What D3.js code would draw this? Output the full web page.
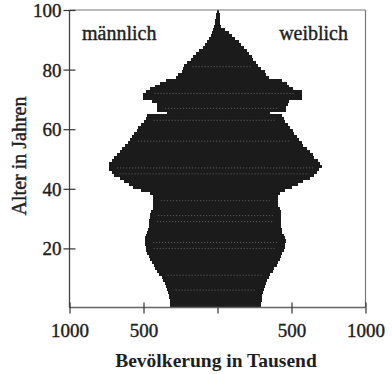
<!DOCTYPE html>
<html><head><meta charset="utf-8">
<script src="https://cdn.jsdelivr.net/npm/d3@7"></script>
<style>
html,body{margin:0;padding:0;background:#fff;}
svg{display:block;font-family:"Liberation Serif","Times New Roman",serif;}
</style></head>
<body>
<svg id="chart" width="392" height="374"></svg>
<script>
// Ages 0..99 (one bar per year), values in thousands
const ages = d3.range(0, 100);
const maleValues = [
 321,321,324,328,331,334,338,345,355,365,
 375,392,409,422,432,443,453,463,473,480,
 486,490,490,490,480,473,470,466,463,463,
 459,456,446,439,436,436,436,439,456,520,
 571,601,635,662,696,716,733,733,730,716,
 696,682,662,642,622,605,591,578,561,547,
 534,517,500,486,473,341,409,409,409,443,
 503,503,480,456,419,389,350,280,265,243,
 230,223,209,182,166,142,122,101,84,68,
 57,47,37,30,24,17,14,10,7,3
];
const femaleValues = [
 297,297,301,304,304,307,311,318,328,334,
 345,358,372,385,399,409,419,429,439,446,
 453,456,463,459,449,439,436,432,429,429,
 429,429,429,419,412,409,409,409,419,453,
 503,541,581,622,649,672,689,706,693,679,
 655,645,622,605,581,568,551,537,520,507,
 490,476,459,446,436,355,463,463,473,486,
 571,571,571,507,486,470,436,345,331,318,
 297,277,260,243,233,216,199,179,159,142,
 118,98,78,54,27,20,20,17,14,10
];
// ages where the printed bars show faint separator lines
const separatorAges = [6, 11, 20, 22, 29, 31, 36, 45, 47, 56, 63, 67, 72, 81];
const yTicks = [20, 40, 60, 80, 100];
const xTicks = [-1000, -500, 0, 500, 1000];
const xTickLabels = ["1000", "500", "", "500", "1000"];
const maleLabel = "männlich";
const femaleLabel = "weiblich";
const xTitle = "Bevölkerung in Tausend";
const yTitle = "Alter in Jahren";

const svg = d3.select("#chart");
const x = d3.scaleLinear().domain([-1000, 1000]).range([69.5, 365.5]);
const y = d3.scaleLinear().domain([0, 100]).range([308, 10]);
const fill = "#1b1b1b";
const ink = "#1e1e1e";

const data = ages.map((a, i) => ({age: a, m: maleValues[i], f: femaleValues[i]}));

const g = svg.append("g").attr("shape-rendering", "crispEdges");
g.selectAll("rect.m").data(data).join("rect").attr("class", "m")
  .attr("x", d => x(-d.m)).attr("width", d => x(0) - x(-d.m) + 0.5)
  .attr("y", d => y(d.age + 1)).attr("height", d => y(d.age) - y(d.age + 1) + 0.4)
  .attr("fill", fill);
g.selectAll("rect.f").data(data).join("rect").attr("class", "f")
  .attr("x", x(0)).attr("width", d => x(d.f) - x(0))
  .attr("y", d => y(d.age + 1)).attr("height", d => y(d.age) - y(d.age + 1) + 0.4)
  .attr("fill", fill);

// faint separator dots
svg.selectAll("line.sep").data(separatorAges).join("line").attr("class", "sep")
  .attr("x1", a => x(-maleValues[a]) + 8).attr("x2", a => x(femaleValues[a]) - 8)
  .attr("y1", a => y(a)).attr("y2", a => y(a))
  .attr("stroke", "#fff").attr("stroke-opacity", 0.35).attr("stroke-width", 0.8)
  .attr("stroke-dasharray", "1.2,1.8");

// frame
const x0 = x(-1000), x1 = x(1000), yTop = y(100), yBot = y(0) - 0.5;
svg.append("line").attr("x1", x0).attr("x2", x1).attr("y1", yTop).attr("y2", yTop).attr("stroke", "#777").attr("stroke-width", 1.2);
svg.append("line").attr("x1", x1).attr("x2", x1).attr("y1", yTop).attr("y2", yBot).attr("stroke", "#777").attr("stroke-width", 1.2);
svg.append("line").attr("x1", x0).attr("x2", x1).attr("y1", yBot).attr("y2", yBot).attr("stroke", "#666").attr("stroke-width", 1.4);

// left axis
const yAxis = d3.axisLeft(y).tickValues(yTicks).tickSizeInner(6).tickSizeOuter(0).tickPadding(2);
const ya = svg.append("g").attr("transform", `translate(${x0},0)`).call(yAxis);
ya.select(".domain").attr("stroke", "#444").attr("stroke-width", 1.3).attr("d", `M0,${yTop}V${yBot}`);
ya.selectAll(".tick line").attr("x1", 6).attr("x2", -6).attr("stroke", "#333").attr("stroke-width", 1.2);
ya.selectAll(".tick text").attr("font-size", 19).attr("fill", ink).attr("stroke", ink).attr("stroke-width", 0.4)
  .attr("font-family", "Liberation Serif").attr("dy", "0.34em");

// bottom axis
const xAxis = d3.axisBottom(x).tickValues(xTicks).tickFormat((d, i) => xTickLabels[i])
  .tickSizeInner(6).tickSizeOuter(0).tickPadding(10);
const xa = svg.append("g").attr("transform", `translate(0,${yBot})`).call(xAxis);
xa.select(".domain").remove();
xa.selectAll(".tick line").attr("y1", d => d === 0 ? 0 : -5).attr("y2", 6).attr("stroke", "#333").attr("stroke-width", 1.2);
xa.selectAll(".tick text").attr("font-size", 19).attr("fill", ink).attr("stroke", ink).attr("stroke-width", 0.4)
  .attr("font-family", "Liberation Serif");

// labels
svg.append("text").attr("x", 82).attr("y", 40).attr("font-size", 20).attr("fill", ink)
  .attr("stroke", ink).attr("stroke-width", 0.4).text(maleLabel);
svg.append("text").attr("x", 348).attr("y", 40).attr("text-anchor", "end").attr("font-size", 20).attr("fill", ink)
  .attr("stroke", ink).attr("stroke-width", 0.4).text(femaleLabel);
svg.append("text").attr("x", 216).attr("y", 367).attr("text-anchor", "middle").attr("font-size", 19.5)
  .attr("font-weight", "bold").attr("fill", ink).text(xTitle);
svg.append("text").attr("transform", "translate(26,156) rotate(-90)").attr("text-anchor", "middle")
  .attr("font-size", 20).attr("fill", ink).attr("stroke", ink).attr("stroke-width", 0.4).text(yTitle);
</script>
</body></html>
